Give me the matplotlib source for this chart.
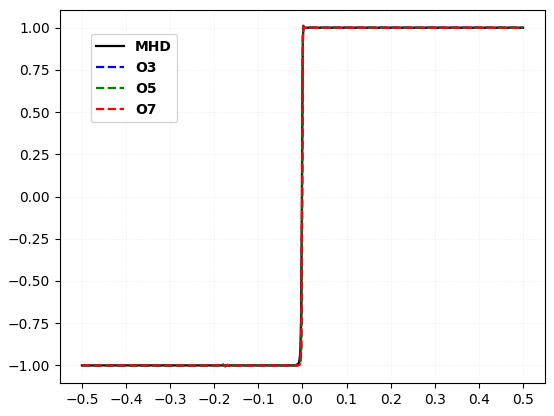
import matplotlib
matplotlib.use('Agg')
import matplotlib.pyplot as plt
import numpy as np

# sample positions
x = [-0.5, -0.3, -0.2, -0.19, -0.185, -0.18, -0.175, -0.17, -0.165, -0.16, -0.155,
     -0.15, -0.14, -0.05, -0.02, -0.012, -0.008, -0.005, -0.003, -0.002, -0.001,
     0.0, 0.001, 0.002, 0.003, 0.005, 0.01, 0.1, 0.3, 0.5]

mhd = [-1.0, -1.0, -1.0, -1.0, -1.0, -1.0, -1.0, -1.0, -1.0, -1.0, -1.0,
       -1.0, -1.0, -1.0, -1.0, -0.995, -0.985, -0.93, -0.7, -0.3, 0.2,
       0.7, 0.95, 0.99, 0.998, 1.0, 1.0, 1.0, 1.0, 1.0]

o3 = [-1.0, -1.0, -1.0, -0.998, -1.004, -0.996, -1.005, -0.997, -1.003, -0.998, -1.002,
      -1.0, -1.0, -1.0, -1.0, -1.0, -0.998, -0.99, -0.9, -0.6, -0.1,
      0.5, 0.95, 1.012, 1.005, 1.0, 1.0, 1.0, 1.0, 1.0]

o5 = [-1.0, -1.0, -1.0, -0.997, -1.005, -0.994, -1.006, -0.996, -1.004, -0.997, -1.003,
      -0.999, -1.0, -1.0, -1.0, -1.0, -0.998, -0.99, -0.92, -0.65, -0.15,
      0.45, 0.92, 1.005, 1.002, 1.0, 1.0, 1.0, 1.0, 1.0]

o7 = [-1.0, -1.0, -1.0, -0.999, -1.002, -0.998, -1.003, -0.998, -1.002, -0.999, -1.001,
      -1.0, -1.0, -1.0, -1.0, -1.0, -0.998, -0.99, -0.91, -0.62, -0.12,
      0.48, 0.93, 1.008, 1.003, 1.0, 1.0, 1.0, 1.0, 1.0]

fig = plt.figure(figsize=(5.54, 4.16), dpi=100)
ax = fig.add_axes([0.108, 0.079, 0.876, 0.897])

ax.plot(x, mhd, color='black', linestyle='-', linewidth=1.6, label='MHD')
ax.plot(x, o3, color='blue', linestyle='--', linewidth=1.6, label='O3')
ax.plot(x, o5, color='green', linestyle='--', linewidth=1.6, label='O5')
ax.plot(x, o7, color='red', linestyle='--', linewidth=1.6, label='O7')

ax.set_xticks(np.arange(-0.5, 0.51, 0.1))
ax.set_yticks(np.arange(-1.0, 1.01, 0.25))
ax.grid(True, linestyle=':', linewidth=0.5, alpha=0.3)
ax.set_ylim(-1.105, 1.105)

ax.legend(loc='upper left', bbox_to_anchor=(0.049, 0.953), prop={'weight': 'bold'})

plt.savefig('out.png', dpi=100)
